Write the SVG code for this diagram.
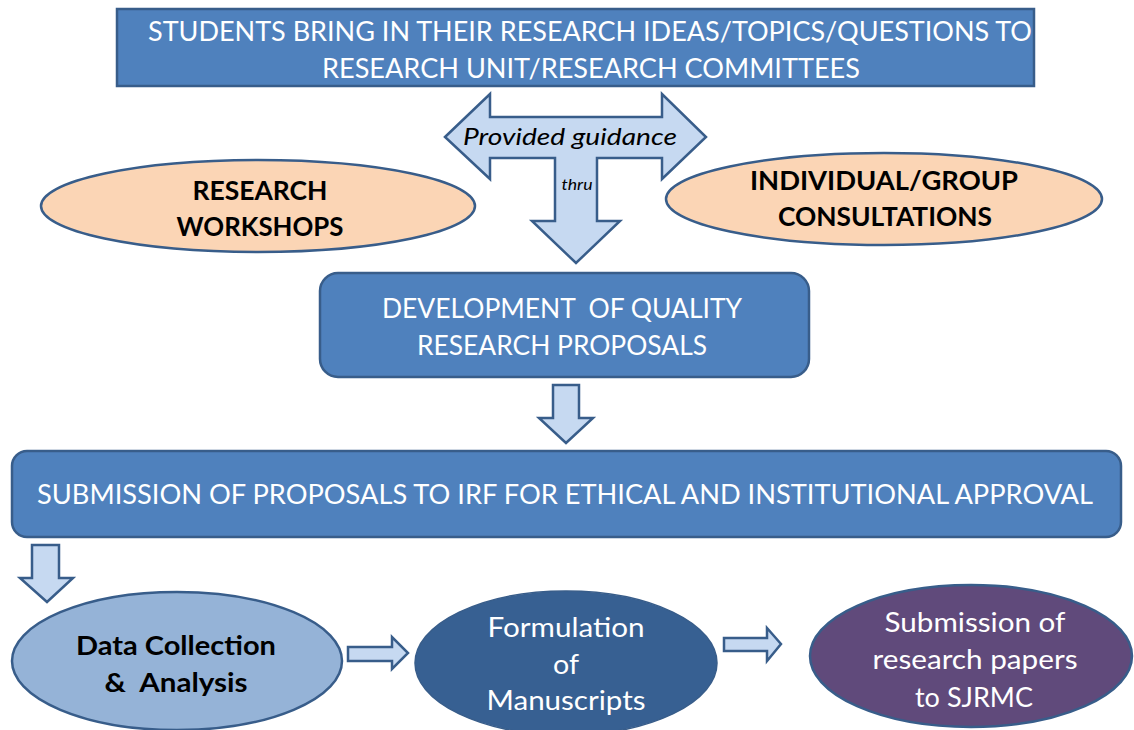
<svg xmlns="http://www.w3.org/2000/svg" width="1134" height="730" viewBox="0 0 1134 730">
<style>
.box{fill:#4f81bd;stroke:#385d8a;stroke-width:2.5}
.peach{fill:#fbd5b5;stroke:#385d8a;stroke-width:2.5}
.arr{fill:#c6d9f1;stroke:#385d8a;stroke-width:2.5;stroke-linejoin:miter}
.wt{font-family:Lato,"Open Sans","Liberation Sans",sans-serif;fill:#ffffff;text-anchor:middle}
.bt{font-family:Lato,"Open Sans","Liberation Sans",sans-serif;fill:#000000;text-anchor:middle;font-weight:bold}
.it{font-family:Lato,"Open Sans","Liberation Sans",sans-serif;fill:#000000;text-anchor:middle;font-style:italic}
</style>
<rect width="1134" height="730" fill="#ffffff"/>
<g id="connectors">
  <polygon class="arr" points="445,137 490,94 490,117 662,117 662,94 706,137 662,179 662,158 597,158 597,221 620,221 576,263 532,221 555,221 555,158 490,158 490,179"/>
  <text class="it" x="570" y="145" font-size="24" textLength="214" lengthAdjust="spacingAndGlyphs">Provided guidance</text>
  <text class="it" x="577" y="190" font-size="15" textLength="31" lengthAdjust="spacingAndGlyphs">thru</text>
  <polygon class="arr" points="553,385 579,385 579,418 593,418 566,443 539,418 553,418"/>
  <polygon class="arr" points="32,545 59,545 59,578 73,578 47,602 20,578 32,578"/>
  <polygon class="arr" points="348,647 392,647 392,637 408,653 392,669 392,661 348,661"/>
  <polygon class="arr" points="724,638 767,638 767,628 781,644 767,661 767,651 724,651"/>
</g>
<g id="node-students">
  <rect class="box" x="117" y="9" width="917" height="77"/>
  <text class="wt" x="590" y="41" font-size="27" textLength="884" lengthAdjust="spacingAndGlyphs">STUDENTS BRING IN THEIR RESEARCH IDEAS/TOPICS/QUESTIONS TO</text>
  <text class="wt" x="591" y="78" font-size="27" textLength="538" lengthAdjust="spacingAndGlyphs">RESEARCH UNIT/RESEARCH COMMITTEES</text>
</g>
<g id="node-workshops">
  <ellipse class="peach" cx="258" cy="206" rx="217" ry="46"/>
  <text class="bt" x="260" y="200" font-size="26" textLength="135" lengthAdjust="spacingAndGlyphs">RESEARCH</text>
  <text class="bt" x="260" y="236" font-size="26" textLength="167" lengthAdjust="spacingAndGlyphs">WORKSHOPS</text>
</g>
<g id="node-consultations">
  <ellipse class="peach" cx="884" cy="199" rx="218" ry="46"/>
  <text class="bt" x="884" y="190" font-size="26" textLength="268" lengthAdjust="spacingAndGlyphs">INDIVIDUAL/GROUP</text>
  <text class="bt" x="885" y="226" font-size="26" textLength="214" lengthAdjust="spacingAndGlyphs">CONSULTATIONS</text>
</g>
<g id="node-development">
  <rect class="box" x="320" y="273" width="489" height="104" rx="18" ry="18"/>
  <text class="wt" x="562" y="318" font-size="27" textLength="360" xml:space="preserve" lengthAdjust="spacingAndGlyphs">DEVELOPMENT  OF QUALITY</text>
  <text class="wt" x="562" y="355" font-size="27" textLength="290" lengthAdjust="spacingAndGlyphs">RESEARCH PROPOSALS</text>
</g>
<g id="node-submission">
  <rect class="box" x="12" y="451" width="1109" height="86" rx="15" ry="15"/>
  <text class="wt" x="565" y="504" font-size="27" textLength="1056" lengthAdjust="spacingAndGlyphs">SUBMISSION OF PROPOSALS TO IRF FOR ETHICAL AND INSTITUTIONAL APPROVAL</text>
</g>
<g id="node-data">
  <ellipse cx="177" cy="661" rx="165" ry="69" fill="#95b3d7" stroke="#385d8a" stroke-width="2.5"/>
  <text class="bt" x="176" y="655" font-size="26" textLength="200" lengthAdjust="spacingAndGlyphs">Data Collection</text>
  <text class="bt" x="176" y="692" font-size="26" textLength="143" xml:space="preserve" lengthAdjust="spacingAndGlyphs">&amp;  Analysis</text>
</g>
<g id="node-formulation">
  <ellipse cx="566" cy="663" rx="151" ry="72" fill="#376092" stroke="#385d8a" stroke-width="1.5"/>
  <text class="wt" x="566" y="637" font-size="27" textLength="157" lengthAdjust="spacingAndGlyphs">Formulation</text>
  <text class="wt" x="566" y="674" font-size="27" textLength="26" lengthAdjust="spacingAndGlyphs">of</text>
  <text class="wt" x="566" y="710" font-size="27" textLength="159" lengthAdjust="spacingAndGlyphs">Manuscripts</text>
</g>
<g id="node-papers">
  <ellipse cx="971" cy="656" rx="161" ry="71" fill="#604a7b" stroke="#385d8a" stroke-width="2.5"/>
  <text class="wt" x="975" y="632" font-size="27" textLength="181" lengthAdjust="spacingAndGlyphs">Submission of</text>
  <text class="wt" x="975" y="669" font-size="27" textLength="205" lengthAdjust="spacingAndGlyphs">research papers</text>
  <text class="wt" x="974" y="707" font-size="27" textLength="118" lengthAdjust="spacingAndGlyphs">to SJRMC</text>
</g>
</svg>
